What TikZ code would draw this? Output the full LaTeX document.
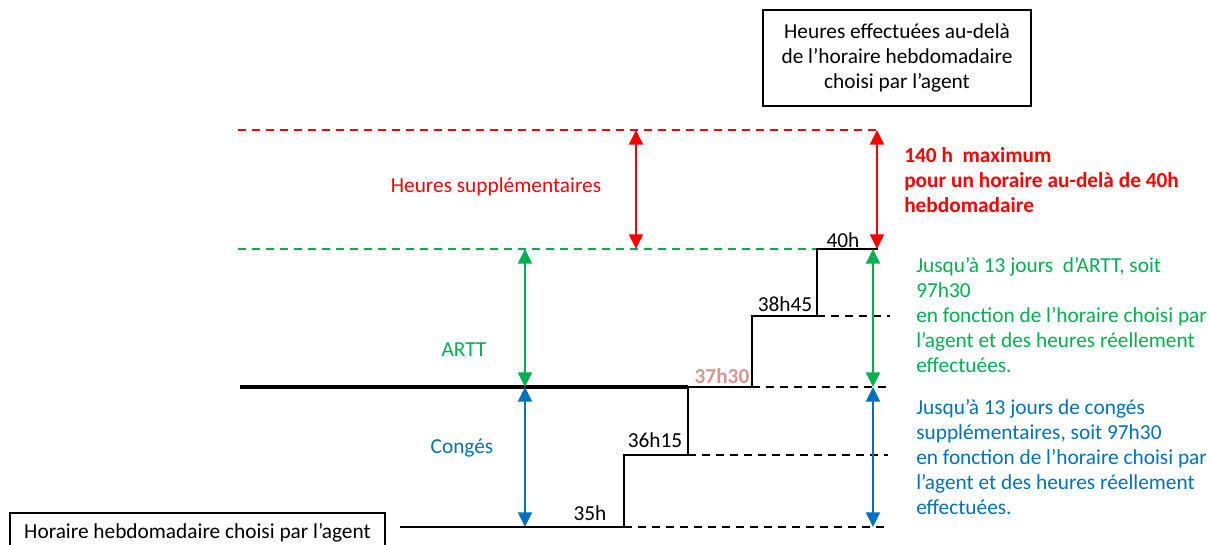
\documentclass[tikz,border=0pt]{standalone}
\usepackage{fontspec}
\setmainfont{Carlito}
\usetikzlibrary{arrows.meta}
\definecolor{xred}{RGB}{255,0,0}
\definecolor{xgreen}{RGB}{0,176,80}
\definecolor{xblue}{RGB}{0,112,192}
\definecolor{xpink}{RGB}{217,149,148}
\begin{document}
\begin{tikzpicture}[x=0.75pt,y=-0.75pt,
  txt/.style={font=\fontsize{16}{18.75}\selectfont, inner sep=0pt},
  blk/.style={txt, align=left, anchor=west},
  dbl/.style={line width=1.6pt, {Triangle[width=10.5pt,length=11pt]}-{Triangle[width=10.5pt,length=11pt]}},
  stair/.style={line width=1.3pt, line join=miter},
  guide/.style={line width=1pt, dash pattern=on 6pt off 4.5pt},
  framed/.style={txt, draw, line width=1.2pt, align=center}
]
\useasboundingbox (0,0) rectangle (1210,544);

% levels
\coordinate (r0) at (238,130); \coordinate (r1) at (878,130);
\coordinate (g0) at (238,249); \coordinate (g1) at (817,249);
\coordinate (t0) at (240,387); \coordinate (t1) at (688,387);
\coordinate (s0) at (400,527); \coordinate (s1) at (624,527);
\coordinate (s2) at (624,455); \coordinate (s3) at (688,455);
\coordinate (s4) at (752,387); \coordinate (s5) at (752,316);
\coordinate (s6) at (817,316); \coordinate (s7) at (878,249);
\coordinate (d1) at (888,527); \coordinate (d2) at (888,455);
\coordinate (d3) at (888,387); \coordinate (d4) at (890,316);

% guides
\draw[guide, xred] (r0) -- (r1);
\draw[guide, xgreen] (g0) -- (g1);
\draw[line width=2.4pt] (t0) -- (t1);
\draw[stair] (s0) -- (s1) -- (s2) -- (s3) -- (t1) -- (s4) -- (s5) -- (s6) -- (g1) -- (s7);
\draw[guide] (s1) -- (d1);
\draw[guide] (s3) -- (d2);
\draw[guide] (s4) -- (d3);
\draw[guide] (s6) -- (d4);

% arrows
\coordinate (ar0) at (636,130); \coordinate (ar1) at (636,249);
\coordinate (br0) at (877,130); \coordinate (br1) at (877,249);
\coordinate (ag0) at (525,249); \coordinate (ag1) at (525,387);
\coordinate (bg0) at (873,249); \coordinate (bg1) at (873,387);
\coordinate (ab0) at (525,387); \coordinate (ab1) at (525,527);
\coordinate (bb0) at (873,387); \coordinate (bb1) at (873,527);
\draw[dbl, xred] (ar0) -- (ar1);
\draw[dbl, xred] (br0) -- (br1);
\draw[dbl, xgreen] (ag0) -- (ag1);
\draw[dbl, xgreen] (bg0) -- (bg1);
\draw[dbl, xblue] (ab0) -- (ab1);
\draw[dbl, xblue] (bb0) -- (bb1);

% labels
\node[txt, text=xred] (hs) at (496,187) {Heures supplémentaires};
\node[txt, text=xgreen] (artt) at (464,350) {ARTT};
\node[txt, text=xblue] (cg) at (462,448) {Congés};
\node[txt] (h35) at (590,513) {35h};
\node[txt] (h36) at (655,440) {36h15};
\node[txt, text=xpink, font=\fontsize{16}{18.75}\selectfont\bfseries] (h37) at (722,376) {37h30};
\node[txt] (h38) at (785,304) {38h45};
\node[txt] (h40) at (843,240) {40h};

\node[framed, minimum width=201pt, minimum height=72pt] (top) at (897,58)
  {Heures effectuées au-delà\\de l’horaire hebdomadaire\\choisi par l’agent};
\node[framed, minimum width=281pt, minimum height=30pt] (bot) at (197.5,533)
  {Horaire hebdomadaire choisi par l’agent};

\node[blk, text=xred, font=\fontsize{16}{18.75}\selectfont\bfseries] (rtx) at (904,180)
  {140 h\ \ maximum\\pour un horaire au-delà de 40h\\hebdomadaire};
\node[blk, text=xgreen] (gtx) at (916,315)
  {Jusqu’à 13 jours\ \ d’ARTT, soit\\97h30\\en fonction de l’horaire choisi par\\l’agent et des heures réellement\\effectuées.};
\node[blk, text=xblue] (btx) at (916,457)
  {Jusqu’à 13 jours de congés\\supplémentaires, soit 97h30\\en fonction de l’horaire choisi par\\l’agent et des heures réellement\\effectuées.};
\end{tikzpicture}
\end{document}
